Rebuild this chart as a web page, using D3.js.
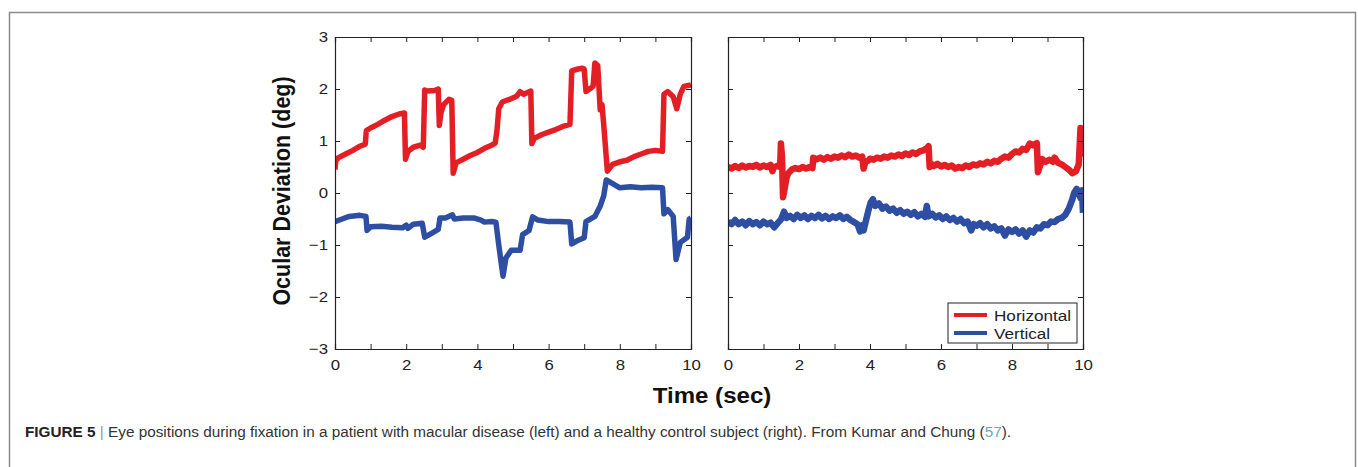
<!DOCTYPE html>
<html><head><meta charset="utf-8">
<script src="https://cdn.jsdelivr.net/npm/d3@7"></script>
<style>body{margin:0;background:#fff}svg{display:block}text{font-family:"Liberation Sans",Arial,sans-serif}</style>
</head><body><svg id="c" width="1358" height="467"></svg>
<script>
const xTicks = [0,2,4,6,8,10];
const yTicks = [3,2,1,0,-1,-2,-3];
const seriesNames = ["Horizontal","Vertical"];
const seriesColors = ["#e31e24","#2d4ea2"];
// patient with macular disease (left panel): [time (s), deviation (deg)]
const leftHorizontal = [[0.00,0.45],[0.02,0.62],[0.1,0.68],[0.3,0.75],[0.5,0.82],[0.7,0.9],[0.85,0.94],[0.88,1.2],[1.0,1.25],[1.2,1.32],[1.4,1.4],[1.6,1.47],[1.8,1.52],[1.95,1.54],[1.98,0.65],[2.05,0.8],[2.2,0.88],[2.4,0.92],[2.48,0.88],[2.52,1.98],[2.6,1.96],[2.8,1.97],[2.9,2.0],[2.93,1.3],[2.98,1.55],[3.05,1.7],[3.2,1.8],[3.28,1.78],[3.32,0.38],[3.4,0.58],[3.6,0.65],[3.8,0.72],[4.0,0.78],[4.2,0.86],[4.4,0.92],[4.5,0.96],[4.55,1.2],[4.6,1.62],[4.7,1.75],[4.9,1.8],[5.1,1.86],[5.2,1.95],[5.3,1.9],[5.5,1.96],[5.53,0.95],[5.6,1.05],[5.8,1.12],[6.0,1.17],[6.2,1.22],[6.4,1.28],[6.6,1.32],[6.65,2.35],[6.8,2.38],[6.95,2.4],[7.0,2.38],[7.05,1.95],[7.15,2.0],[7.25,2.05],[7.3,2.5],[7.38,2.45],[7.45,1.6],[7.5,1.7],[7.55,1.3],[7.65,0.42],[7.8,0.55],[8.0,0.6],[8.2,0.63],[8.4,0.7],[8.6,0.75],[8.8,0.8],[9.0,0.82],[9.2,0.8],[9.24,1.9],[9.35,1.95],[9.5,1.85],[9.6,1.62],[9.7,1.9],[9.8,2.05],[10.0,2.08]];
const leftVertical = [[0,-0.55],[0.2,-0.5],[0.4,-0.45],[0.7,-0.43],[0.87,-0.45],[0.9,-0.72],[1.0,-0.65],[1.3,-0.64],[1.6,-0.66],[1.9,-0.67],[2.0,-0.62],[2.05,-0.68],[2.2,-0.6],[2.45,-0.58],[2.52,-0.85],[2.7,-0.78],[2.9,-0.7],[2.95,-0.48],[3.1,-0.48],[3.3,-0.42],[3.35,-0.5],[3.6,-0.48],[3.9,-0.48],[4.1,-0.52],[4.2,-0.56],[4.4,-0.55],[4.52,-0.56],[4.6,-1.0],[4.72,-1.6],[4.8,-1.25],[4.95,-1.1],[5.2,-1.1],[5.27,-0.8],[5.45,-0.72],[5.55,-0.46],[5.7,-0.52],[6.0,-0.55],[6.3,-0.55],[6.6,-0.56],[6.65,-0.98],[6.8,-0.92],[7.0,-0.86],[7.05,-0.55],[7.3,-0.45],[7.45,-0.25],[7.55,-0.05],[7.62,0.25],[7.8,0.18],[8.0,0.1],[8.3,0.12],[8.6,0.1],[8.9,0.11],[9.2,0.1],[9.24,-0.4],[9.35,-0.32],[9.5,-0.45],[9.58,-1.28],[9.7,-0.95],[9.9,-0.85],[9.95,-0.5],[10.0,-0.48]];
// healthy control (right panel)
const rightHorizontal = [[0,0.5],[0.1,0.47],[0.2,0.52],[0.3,0.48],[0.4,0.53],[0.5,0.49],[0.6,0.52],[0.7,0.5],[0.8,0.54],[0.9,0.49],[1.0,0.53],[1.1,0.5],[1.2,0.54],[1.25,0.42],[1.3,0.5],[1.4,0.52],[1.47,0.5],[1.49,0.95],[1.52,0.7],[1.55,-0.08],[1.6,0.1],[1.65,0.3],[1.7,0.38],[1.8,0.45],[1.9,0.48],[2.0,0.46],[2.1,0.5],[2.2,0.47],[2.3,0.5],[2.38,0.48],[2.4,0.68],[2.5,0.65],[2.6,0.68],[2.7,0.64],[2.8,0.69],[2.9,0.66],[3.0,0.7],[3.1,0.68],[3.2,0.72],[3.3,0.69],[3.4,0.74],[3.5,0.7],[3.6,0.72],[3.7,0.68],[3.78,0.7],[3.82,0.47],[3.87,0.6],[3.95,0.62],[4.0,0.66],[4.1,0.64],[4.2,0.68],[4.3,0.66],[4.4,0.7],[4.5,0.68],[4.6,0.72],[4.7,0.7],[4.8,0.74],[4.9,0.71],[5.0,0.76],[5.1,0.73],[5.2,0.78],[5.3,0.75],[5.4,0.8],[5.5,0.82],[5.6,0.86],[5.65,0.9],[5.68,0.5],[5.75,0.55],[5.8,0.52],[5.9,0.56],[6.0,0.51],[6.1,0.54],[6.2,0.5],[6.3,0.53],[6.4,0.47],[6.5,0.5],[6.6,0.48],[6.7,0.53],[6.8,0.5],[6.9,0.55],[7.0,0.53],[7.1,0.57],[7.2,0.55],[7.3,0.6],[7.4,0.57],[7.5,0.62],[7.6,0.6],[7.7,0.66],[7.8,0.7],[7.9,0.68],[8.0,0.75],[8.1,0.8],[8.2,0.78],[8.3,0.85],[8.4,0.83],[8.5,0.95],[8.6,0.92],[8.7,0.96],[8.73,0.4],[8.78,0.5],[8.85,0.65],[8.95,0.6],[9.05,0.64],[9.15,0.6],[9.2,0.68],[9.3,0.58],[9.4,0.55],[9.5,0.5],[9.6,0.45],[9.7,0.38],[9.8,0.42],[9.88,0.55],[9.93,1.25],[9.97,0.9],[10,0.7]];
const rightVertical = [[0,-0.55],[0.1,-0.6],[0.2,-0.52],[0.3,-0.6],[0.4,-0.55],[0.5,-0.62],[0.6,-0.54],[0.7,-0.6],[0.8,-0.56],[0.9,-0.62],[1.0,-0.55],[1.1,-0.6],[1.2,-0.57],[1.3,-0.66],[1.4,-0.58],[1.5,-0.5],[1.58,-0.36],[1.65,-0.48],[1.75,-0.44],[1.85,-0.5],[1.95,-0.42],[2.05,-0.48],[2.15,-0.43],[2.25,-0.5],[2.35,-0.44],[2.45,-0.48],[2.55,-0.42],[2.65,-0.49],[2.75,-0.44],[2.85,-0.5],[2.95,-0.45],[3.05,-0.48],[3.15,-0.43],[3.25,-0.5],[3.35,-0.46],[3.45,-0.52],[3.55,-0.56],[3.65,-0.6],[3.72,-0.74],[3.78,-0.62],[3.82,-0.72],[3.88,-0.55],[3.95,-0.35],[4.02,-0.18],[4.08,-0.12],[4.15,-0.25],[4.25,-0.2],[4.35,-0.3],[4.45,-0.26],[4.55,-0.34],[4.65,-0.3],[4.75,-0.38],[4.85,-0.33],[4.95,-0.4],[5.05,-0.36],[5.15,-0.42],[5.25,-0.37],[5.35,-0.45],[5.45,-0.4],[5.55,-0.46],[5.6,-0.25],[5.65,-0.45],[5.75,-0.4],[5.85,-0.47],[5.95,-0.43],[6.05,-0.5],[6.15,-0.45],[6.25,-0.52],[6.35,-0.48],[6.45,-0.55],[6.55,-0.5],[6.65,-0.58],[6.75,-0.55],[6.85,-0.72],[6.92,-0.6],[7.0,-0.63],[7.1,-0.58],[7.2,-0.66],[7.3,-0.6],[7.4,-0.68],[7.5,-0.64],[7.6,-0.72],[7.7,-0.68],[7.8,-0.82],[7.9,-0.7],[8.0,-0.75],[8.1,-0.7],[8.2,-0.78],[8.3,-0.72],[8.4,-0.84],[8.5,-0.72],[8.6,-0.76],[8.7,-0.66],[8.8,-0.68],[8.9,-0.6],[9.0,-0.62],[9.1,-0.55],[9.2,-0.56],[9.3,-0.5],[9.4,-0.48],[9.5,-0.42],[9.6,-0.3],[9.7,-0.12],[9.75,0.0],[9.82,0.08],[9.88,0.02],[9.93,-0.1],[9.97,0.05],[10,-0.38]];

const svg = d3.select("#c");
const SX = 1.12; // horizontal stretch of the chart's lettering
svg.append("path").attr("d","M9.5,467 V12.5 H1355.5 V467").attr("fill","none").attr("stroke","#8a8a8a").attr("stroke-width",1.5);

const yTop = 37, yBot = 349;
const y = d3.scaleLinear().domain([-3,3]).range([yBot, yTop]);
const panels = [
  {x0:335, x1:691, data:[leftHorizontal,leftVertical], yLabels:true, sw:5.5},
  {x0:728, x1:1083, data:[rightHorizontal,rightVertical], yLabels:false, sw:6.5}
];
const minorX = d3.range(0,11,1);
panels.forEach(p => {
  const x = d3.scaleLinear().domain([0,10]).range([p.x0,p.x1]);
  const g = svg.append("g");
  const clipId = "clip"+p.x0;
  g.append("clipPath").attr("id",clipId).append("rect").attr("x",p.x0).attr("y",yTop).attr("width",p.x1-p.x0).attr("height",yBot-yTop);
  const line = d3.line().x(d=>x(d[0])).y(d=>y(d[1])).curve(d3.curveLinear);
  p.data.forEach((s,i)=>{
    g.append("path").attr("d",line(s)).attr("fill","none").attr("stroke",seriesColors[i])
     .attr("stroke-width",p.sw).attr("stroke-linejoin","round").attr("clip-path",`url(#${clipId})`);
  });
  const gb = svg.append("g").attr("transform",`translate(0,${yBot})`)
    .call(d3.axisBottom(x).tickValues(minorX).tickSize(-5).tickFormat(d=> xTicks.includes(d)? d : ""));
  const gt = svg.append("g").attr("transform",`translate(0,${yTop})`)
    .call(d3.axisTop(x).tickValues(minorX).tickSize(-5).tickFormat(""));
  const gl = svg.append("g").attr("transform",`translate(${p.x0},0)`)
    .call(d3.axisLeft(y).tickValues(yTicks).tickSize(-5).tickFormat(d=> p.yLabels ? (d<0? "\u2212"+Math.abs(d) : d) : ""));
  const gr = svg.append("g").attr("transform",`translate(${p.x1},0)`)
    .call(d3.axisRight(y).tickValues(yTicks).tickSize(-5).tickFormat(""));
  [gb,gt,gl,gr].forEach(a=>{
    a.select(".domain").attr("stroke","#222").attr("stroke-width",1.2);
    a.selectAll(".tick line").attr("stroke","#222");
    a.selectAll("text").attr("font-size",15).attr("fill","#222").attr("font-family","Liberation Sans, Arial, sans-serif");
  });
  gb.selectAll("text").attr("dy",null).attr("y",null).attr("transform",`translate(0,21) scale(${SX},1)`);
  gl.selectAll("text").attr("x",null).attr("transform",`translate(-7,0) scale(${SX},1)`);
});

svg.append("text").attr("transform",`translate(712,403) scale(${SX},1)`).attr("text-anchor","middle").attr("font-size",21.5).attr("font-weight","bold").attr("fill","#111").text("Time (sec)");
svg.append("text").attr("transform",`translate(290,191) rotate(-90) scale(1,${SX})`).attr("text-anchor","middle").attr("font-size",21.5).attr("font-weight","bold").attr("fill","#111").text("Ocular Deviation (deg)");

const lg = svg.append("g");
lg.append("rect").attr("x",948).attr("y",303).attr("width",129).attr("height",40).attr("fill","#fff").attr("stroke","#222").attr("stroke-width",1);
seriesNames.forEach((n,i)=>{
  const yy = 315 + i*18;
  lg.append("line").attr("x1",954).attr("x2",987).attr("y1",yy).attr("y2",yy).attr("stroke",seriesColors[i]).attr("stroke-width",4);
  lg.append("text").attr("transform",`translate(994,${yy+5.5}) scale(${SX},1)`).attr("font-size",15.3).attr("fill","#222").text(n);
});

const cap = svg.append("text").attr("x",25).attr("y",437).attr("font-size",15.3).attr("fill","#333");
cap.append("tspan").attr("font-weight","bold").attr("fill","#222").text("FIGURE 5");
cap.append("tspan").attr("fill","#999").text(" | ");
cap.append("tspan").text("Eye positions during fixation in a patient with macular disease (left) and a healthy control subject (right). From Kumar and Chung (");
cap.append("tspan").attr("fill","#6fa8a0").text("57");
cap.append("tspan").text(").");
</script></body></html>
